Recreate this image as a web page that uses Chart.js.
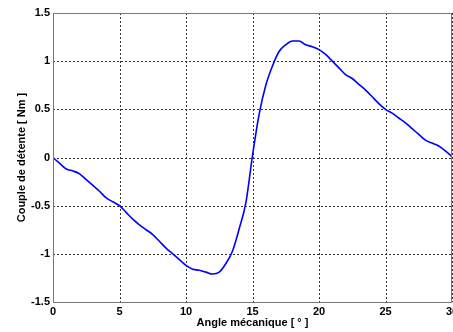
<!DOCTYPE html>
<html>
<head>
<meta charset="utf-8">
<script src="https://cdn.jsdelivr.net/npm/chart.js@4"></script>
<style>
  html, body { margin: 0; padding: 0; background: #fff; }
  #wrap { width: 453px; height: 332px; }
</style>
</head>
<body>
<div id="wrap"><canvas id="c"></canvas></div>
<script>
// angle mecanique (deg) et couple de detente (Nm)
var angles = [0,0.5,1,1.5,2,2.5,3,3.5,4,4.5,5,5.5,6,6.5,7,7.5,8,8.5,9,9.5,10,10.5,11,11.5,12,12.5,13,13.5,14,14.5,15,15.5,16,16.5,17,17.5,18,18.5,19,19.5,20,20.5,21,21.5,22,22.5,23,23.5,24,24.5,25,25.5,26,26.5,27,27.5,28,28.5,29,29.5,30];
var couple = [0,-0.06,-0.12,-0.14,-0.17,-0.23,-0.29,-0.35,-0.42,-0.46,-0.50,-0.57,-0.64,-0.70,-0.75,-0.80,-0.87,-0.94,-1.00,-1.06,-1.12,-1.16,-1.17,-1.19,-1.21,-1.19,-1.10,-0.97,-0.74,-0.47,0.02,0.45,0.75,0.95,1.10,1.17,1.21,1.21,1.17,1.15,1.12,1.07,1.00,0.93,0.86,0.82,0.76,0.70,0.63,0.56,0.50,0.46,0.41,0.36,0.30,0.24,0.18,0.15,0.12,0.07,0.01];
var xTicks = [0,5,10,15,20,25,30];
var yTicks = [-1.5,-1,-0.5,0,0.5,1,1.5];

var pts = [];
for (var i = 0; i < angles.length; i++) {
  pts.push({x: angles[i], y: couple[i]});
}

var police = {family: "'Liberation Sans', Arial, sans-serif", size: 11, weight: 'bold'};

// quadrillage en pointilles + cadre gris
var cadre = {
  id: 'cadre',
  beforeDatasetsDraw: function(chart) {
    var a = chart.chartArea, ctx = chart.ctx;
    var sx = chart.scales.x, sy = chart.scales.y;
    ctx.save();
    ctx.strokeStyle = '#333';
    ctx.lineWidth = 1;
    ctx.setLineDash([2, 2]);
    xTicks.forEach(function(v) {
      var px = Math.round(sx.getPixelForValue(v)) + 0.5;
      ctx.beginPath(); ctx.moveTo(px, a.top); ctx.lineTo(px, a.bottom); ctx.stroke();
    });
    yTicks.forEach(function(v) {
      var py = Math.round(sy.getPixelForValue(v)) + 0.5;
      ctx.beginPath(); ctx.moveTo(a.left, py); ctx.lineTo(a.right, py); ctx.stroke();
    });
    ctx.restore();
  },
  afterDraw: function(chart) {
    var a = chart.chartArea, ctx = chart.ctx;
    ctx.save();
    ctx.strokeStyle = '#777';
    ctx.lineWidth = 1;
    ctx.strokeRect(a.left + 0.5, a.top + 0.5, a.right - a.left - 1, a.bottom - a.top);
    ctx.restore();
  }
};

new Chart(document.getElementById('c'), {
  type: 'line',
  data: {
    datasets: [{
      data: pts,
      borderColor: '#0000ff',
      borderWidth: 1.6,
      pointRadius: 0,
      fill: false,
      cubicInterpolationMode: 'monotone'
    }]
  },
  options: {
    responsive: true,
    maintainAspectRatio: false,
    animation: false,
    layout: {padding: {top: 13, right: 1, left: 0, bottom: 0}},
    plugins: {legend: {display: false}, tooltip: {enabled: false}},
    scales: {
      x: {
        type: 'linear',
        min: 0, max: 30,
        afterBuildTicks: function(s) { s.ticks = xTicks.map(function(v) { return {value: v}; }); },
        afterFit: function(s) { s.height = 30; s.paddingLeft = 0; s.paddingRight = 0; },
        ticks: {color: '#000', font: police, padding: 3, maxRotation: 0,
          callback: function(v) { return v; }},
        grid: {display: false, drawTicks: false},
        border: {display: false},
        title: {display: true, text: 'Angle mécanique [ ° ]', color: '#000', font: police,
          padding: {top: 0, bottom: 2}}
      },
      y: {
        min: -1.5, max: 1.5,
        afterBuildTicks: function(s) { s.ticks = yTicks.map(function(v) { return {value: v}; }); },
        afterFit: function(s) { s.width = 53; s.paddingTop = 0; s.paddingBottom = 0; },
        ticks: {color: '#000', font: police, padding: 3,
          callback: function(v) { return v; }},
        grid: {display: false, drawTicks: false},
        border: {display: false},
        title: {display: true, text: 'Couple de détente [ Nm ]', color: '#000', font: police,
          padding: {top: 15, bottom: 0}}
      }
    }
  },
  plugins: [cadre]
});
</script>
</body>
</html>
